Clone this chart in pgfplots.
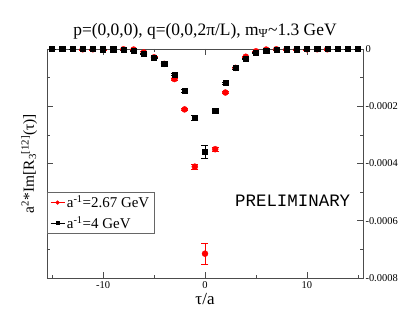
\documentclass[border=0pt]{standalone}
\usepackage{pgfplots}
\pgfplotsset{compat=1.18}
\usepackage{fontspec}
\setmainfont{Liberation Serif}
\setmonofont{Liberation Mono}
\begin{document}
\begin{tikzpicture}
\begin{axis}[
  scale only axis, width=316bp, height=229bp,
  xmin=-15.5, xmax=15.5, ymin=-0.0008, ymax=0,
  xtick={-10,0,10}, minor xtick={-15,-5,5,15},
  ytick={-0.0008,-0.0006,-0.0004,-0.0002,0},
  minor ytick={-0.0007,-0.0005,-0.0003,-0.0001},
  tick align=inside, major tick length=6bp, minor tick length=3bp,
  yticklabel pos=right,
  scaled y ticks=false,
  /pgf/number format/assume math mode=true,
  yticklabel style={/pgf/number format/fixed,/pgf/number format/precision=4, font=\fontsize{10.5}{12}\selectfont, xshift=-1bp},
  xticklabel style={font=\fontsize{10.5}{12}\selectfont},
  axis line style={black!70, line width=0.8pt},
  tick style={black!70, line width=0.6pt},
  every axis title shift=0pt,
  title={p=(0,0,0), q=(0,0,2π/L), m\textsubscript{Ψ}\textasciitilde1.3 GeV},
  title style={at={(axis description cs:0.5,1.061)}, anchor=base, font=\fontsize{17.5}{19}\selectfont},
  xlabel={τ/a},
  xlabel style={at={(axis description cs:0.5,-0.05)}, anchor=north, font=\fontsize{17}{19}\selectfont},
  ylabel={a\textsuperscript{2}*Im[R\textsubscript{3}\textsuperscript{[12]}(τ)]},
  ylabel style={at={(axis description cs:-0.02,0.5)}, anchor=south, font=\fontsize{15.5}{17}\selectfont},
  legend style={at={(axis description cs:0,0.3755)}, anchor=north west, draw=black!60, line width=0.6pt,
    font=\fontsize{15}{16}\selectfont, inner xsep=3pt, inner ysep=1.5pt, row sep=3pt, cells={anchor=west}},
  legend cell align=left,
  clip=false,
]
\addplot[only marks, red, mark=*, mark size=3bp, mark options={draw=red, fill=red},
  legend image code/.code={\path (0bp,0bp) -- (14bp,0bp);\path[red] plot[only marks, mark=*, mark size=1.8bp, mark options={draw=red, fill=red}] coordinates {(7bp,0bp)};},
  error bars/.cd, y dir=both, y explicit, error mark options={rotate=90, mark size=3.5bp, red}]
  table[x=t, y=v, y error=e] {
t v e
-12 -0.000001 0.000002
-11 -0.000001 0.000002
-10 -0.000001 0.000002
-9 -0.000001 0.000002
-8 -0.000001 0.000002
-7 -0.000002 0.000002
-6 -0.000012 0.000003
-5 -0.000029 0.000003
-4 -0.000052 0.000003
-3 -0.000105 0.000003
-2 -0.000211 0.000004
-1 -0.000411 0.000009
0 -0.000715 0.000036
1 -0.000350 0.000007
2 -0.000152 0.000003
3 -0.000066 0.000003
4 -0.000027 0.000003
5 -0.000008 0.000002
6 -0.000002 0.000002
7 -0.000001 0.000002
8 -0.000001 0.000002
9 -0.000001 0.000002
10 -0.000001 0.000002
11 -0.000001 0.000002
12 -0.000001 0.000002
};
\addlegendentry{a\textsuperscript{-1}=2.67 GeV}
\addplot[only marks, black, mark=square*, mark size=2.6bp,
  legend image code/.code={\path (0bp,0bp) -- (14bp,0bp);\path[black] plot[only marks, mark=square*, mark size=1.6bp, mark options={draw=black, fill=black}] coordinates {(7bp,0bp)};},
  error bars/.cd, y dir=both, y explicit, error mark options={rotate=90, mark size=3.5bp, black}]
  table[x=t, y=v, y error=e] {
t v e
-15 0 0.000001
-14 0 0.000001
-13 0 0.000001
-12 0 0.000001
-11 0 0.000001
-10 -0.000001 0.000001
-9 -0.000001 0.000001
-8 -0.000002 0.000002
-7 -0.000005 0.000002
-6 -0.000016 0.000003
-5 -0.000030 0.000003
-4 -0.000052 0.000003
-3 -0.000089 0.000004
-2 -0.000146 0.000005
-1 -0.000239 0.000009
0 -0.000359 0.000023
1 -0.000215 0.000006
2 -0.000119 0.000004
3 -0.000066 0.000003
4 -0.000034 0.000003
5 -0.000013 0.000002
6 -0.000006 0.000002
7 -0.000003 0.000002
8 -0.000001 0.000001
9 -0.000001 0.000001
10 0 0.000001
11 0 0.000001
12 0 0.000001
13 0 0.000001
14 0 0.000001
15 0 0.000001
};
\addlegendentry{a\textsuperscript{-1}=4 GeV}
\node[font=\ttfamily\fontsize{17.5}{19}\selectfont, anchor=center] at (axis cs:8.6,-0.00053) {PRELIMINARY};
\end{axis}
\pgfresetboundingbox
\path ([shift={(-47bp,-49bp)}]current axis.south west) rectangle ([shift={(46bp,49bp)}]current axis.north east);
\end{tikzpicture}
\end{document}
